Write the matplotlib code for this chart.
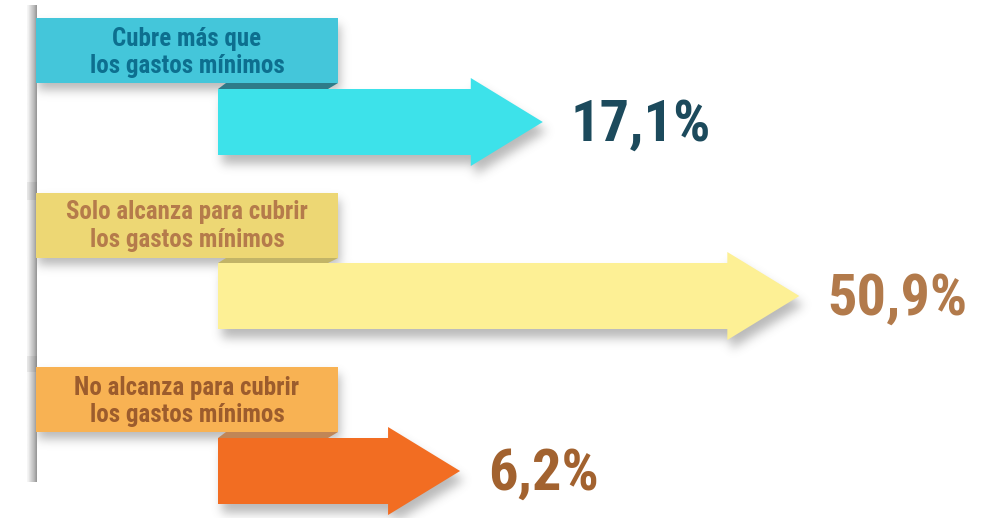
import numpy as np
import matplotlib
matplotlib.use('Agg')
import matplotlib.pyplot as plt
from matplotlib import font_manager
from matplotlib.path import Path
from matplotlib.patches import Polygon, Rectangle

# Datos
etiquetas = [
    ["Cubre más que", "los gastos mínimos"],
    ["Solo alcanza para cubrir", "los gastos mínimos"],
    ["No alcanza para cubrir", "los gastos mínimos"],
]
porcentajes = [17.1, 50.9, 6.2]

# Colores por categoría
color_caja = ['#44C6DA', '#EDD774', '#F8B253']
color_texto_caja = ['#0D6F8F', '#B57B4B', '#9C5C2D']
color_pliegue = ['#2E7B89', '#C2B467', '#C08657']
color_flecha = ['#3DE2EA', '#FDF095', '#F26D22']
color_valor = ['#1C4A5C', '#B27A4B', '#A2622F']

# Fuente condensada si existe
nombres = {f.name for f in font_manager.fontManager.ttflist}
fuente = 'DejaVu Sans'
for f in ['Liberation Sans Narrow', 'Roboto Condensed', 'DejaVu Sans Condensed']:
    if f in nombres:
        fuente = f
        break
estilo = dict(family=fuente, weight='bold', stretch='condensed')

# Lienzo (x en %, y en píxeles)
W, H = 993, 518
X0, K = 413.0, 7.59          # píxel del 0 % y píxeles por punto porcentual
XMIN, XMAX = -X0 / K, (W - X0) / K

def vx(p):
    return (p - X0) / K

fig = plt.figure(figsize=(W / 100, H / 100), dpi=100)
ax = fig.add_axes([0, 0, 1, 1])
ax.set_xlim(XMIN, XMAX)
ax.set_ylim(H, 0)
ax.axis('off')

# Disposición
caja_sup = [18, 193, 367]
caja_alto = 65
centro_flecha = [122, 296, 471]
lineas_base = [(46, 73), (219, 247), (395, 422)]
medio_cuerpo, medio_punta, largo_punta = 33, 44, 72

def flecha(v, cy):
    x1 = vx(218)
    x2 = v - largo_punta / K
    return [(x1, cy - medio_cuerpo), (x2, cy - medio_cuerpo), (x2, cy - medio_punta),
            (v, cy), (x2, cy + medio_punta), (x2, cy + medio_cuerpo), (x1, cy + medio_cuerpo)]

def caja(top):
    return [(vx(36), top), (vx(338), top), (vx(338), top + caja_alto), (vx(36), top + caja_alto)]

# Sombras difusas
gx = XMIN + (np.arange(W) + 0.5) * (XMAX - XMIN) / W
gy = np.arange(H) + 0.5
GX, GY = np.meshgrid(gx, gy)
pts = np.column_stack([GX.ravel(), GY.ravel()])

def desplazar(poly, dx, dy):
    return [(x + dx / K, y + dy) for x, y in poly]

def difuminar(a, s):
    r = int(3 * s)
    k = np.exp(-0.5 * (np.arange(-r, r + 1) / s) ** 2)
    k /= k.sum()
    a = np.apply_along_axis(lambda m: np.convolve(m, k, mode='same'), 0, a)
    a = np.apply_along_axis(lambda m: np.convolve(m, k, mode='same'), 1, a)
    return a

sombra = np.zeros((H, W))
for i, v in enumerate(porcentajes):
    for poly, (dx, dy) in [(flecha(v, centro_flecha[i]), (4, 9)), (caja(caja_sup[i]), (2, 7))]:
        m = Path(desplazar(poly, dx, dy)).contains_points(pts).reshape(H, W)
        sombra = np.maximum(sombra, m)
sombra = difuminar(sombra, 5)
img = np.zeros((H, W, 4))
img[..., :3] = 0.35
img[..., 3] = 0.42 * sombra
ax.imshow(img, extent=(XMIN, XMAX, H, 0), aspect='auto', zorder=1, interpolation='bilinear')

# Poste
grad = np.array([[0.96, 0.93, 0.88, 0.84, 0.80, 0.76, 0.72, 0.66, 0.60]])
ax.imshow(grad, cmap='gray', vmin=0, vmax=1, extent=(vx(27), vx(37), 482, 5),
          aspect='auto', zorder=2, interpolation='bilinear')
for y0, y1 in [(182, 200), (356, 372)]:
    ax.add_patch(Rectangle((vx(27), y0), 10 / K, y1 - y0, color='k', alpha=0.06, lw=0, zorder=2))

# Cajas, pliegues, flechas y textos
for i, v in enumerate(porcentajes):
    top = caja_sup[i]
    cy = centro_flecha[i]
    fondo = top + caja_alto
    ax.add_patch(Polygon(caja(top), closed=True, facecolor=color_caja[i], lw=0, zorder=3))
    pliegue = [(vx(218), cy - medio_cuerpo), (vx(226), fondo), (vx(338), fondo), (vx(328), cy - medio_cuerpo)]
    ax.add_patch(Polygon(pliegue, closed=True, facecolor=color_pliegue[i], lw=0, zorder=3))
    ax.add_patch(Polygon(flecha(v, cy), closed=True, facecolor=color_flecha[i], lw=0, zorder=3))

    for linea, yb in zip(etiquetas[i], lineas_base[i]):
        ax.text(vx(187), yb, linea, ha='center', va='baseline', fontsize=18,
                color=color_texto_caja[i], zorder=4, **estilo)

    texto = f"{v:.1f}".replace('.', ',') + '%'
    ax.text(v + 28 / K, cy + 19, texto, ha='left', va='baseline', fontsize=42,
            color=color_valor[i], zorder=4, **estilo)

fig.savefig('out.png', dpi=100)
